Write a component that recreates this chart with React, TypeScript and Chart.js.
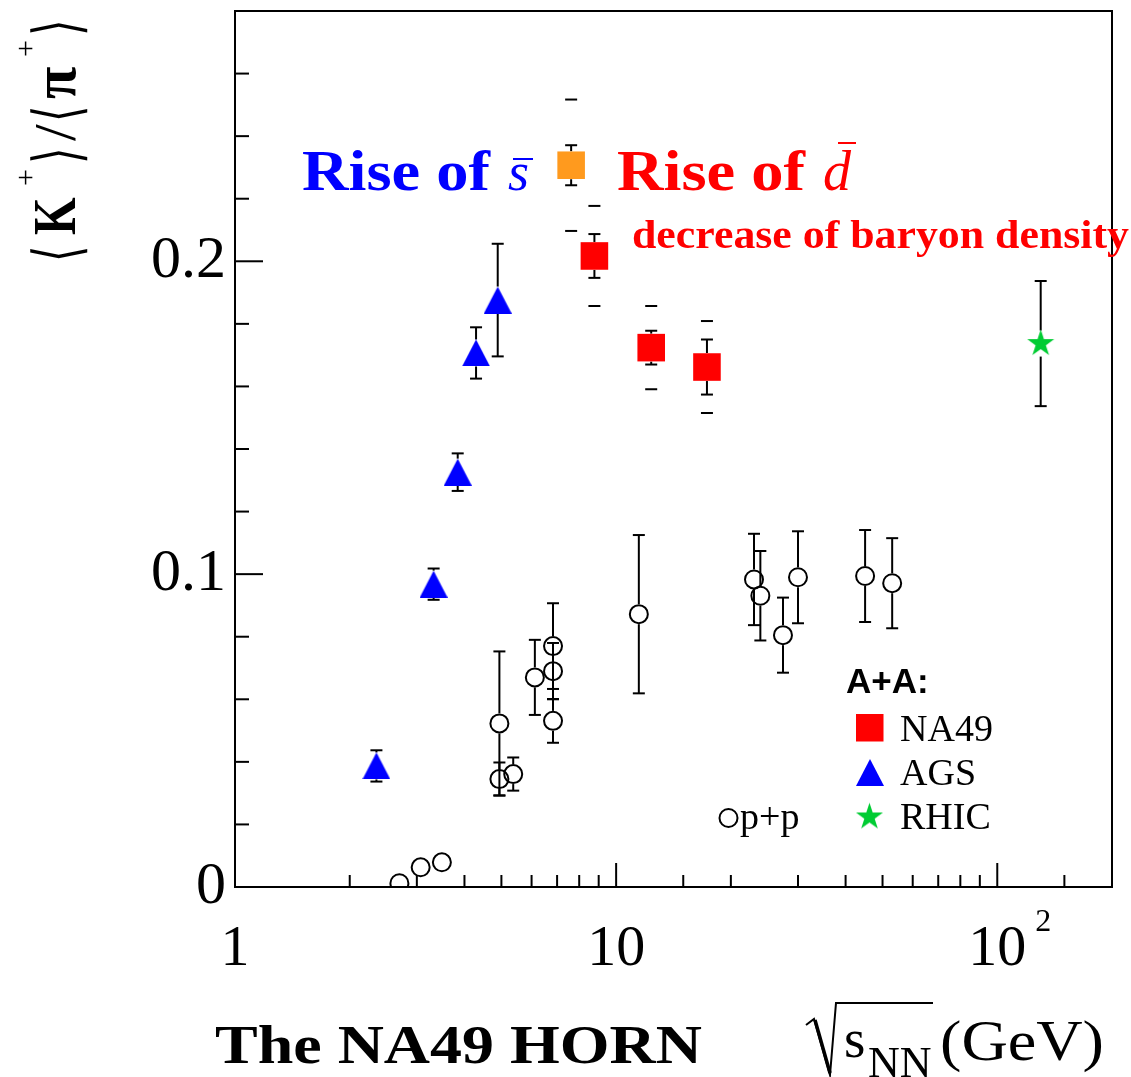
import React, { useEffect, useRef } from 'react';
import { Chart, registerables } from 'chart.js';

Chart.register(...registerables);

// ---------- data (sqrt(s_NN) in GeV, <K+>/<pi+>) ----------
const ppEnergy = [2.7, 3.07, 3.49, 4.94, 4.94, 5.37, 6.12, 6.83, 6.83, 6.83, 11.47, 23.0, 23.9, 27.4, 30.0, 45.0, 53.0];
const ppRatio = [0.0012, 0.0063, 0.0079, 0.0523, 0.0345, 0.0361, 0.067, 0.077, 0.069, 0.0531, 0.0872, 0.0983, 0.0931, 0.0805, 0.099, 0.0994, 0.0971];
const ppErr = [0, 0, 0, 0.023, 0.0053, 0.0053, 0.012, 0.0137, 0.009, 0.007, 0.0253, 0.0146, 0.0143, 0.012, 0.0147, 0.0147, 0.0144];

const agsEnergy = [2.35, 3.32, 3.84, 4.29, 4.89];
const agsRatio = [0.0387, 0.0968, 0.1326, 0.1707, 0.1876];
const agsErr = [0.005, 0.005, 0.006, 0.0082, 0.018];

const na49Energy = [8.77, 12.36, 17.31];
const na49Ratio = [0.2017, 0.1724, 0.1662];
const na49Stat = [0.007, 0.0054, 0.0088];
const na49Sys = [0.016, 0.0133, 0.0147];

const na49LowEnergy = [7.62];
const na49LowRatio = [0.2307];
const na49LowStat = [0.0064];
const na49LowSys = [0.021];

const rhicEnergy = [130];
const rhicRatio = [0.1737];
const rhicErr = [0.02];

const xTickLabels: Record<number, string> = { 1: '1', 10: '10', 100: '10' };
const yTickLabels = ['0', '0.1', '0.2'];

const SERIF = '"Liberation Serif", "DejaVu Serif", serif';

function pts(xs: number[], ys: number[]) {
  return xs.map((x, i) => ({ x, y: ys[i] }));
}

function makeTriangle(color: string) {
  const c = document.createElement('canvas');
  c.width = 28;
  c.height = 27;
  const g = c.getContext('2d')!;
  g.beginPath();
  g.moveTo(14, 0);
  g.lineTo(28, 27);
  g.lineTo(0, 27);
  g.closePath();
  g.fillStyle = color;
  g.fill();
  return c;
}

function makeStar(color: string, R: number) {
  const c = document.createElement('canvas');
  const s = Math.ceil(2 * R + 2);
  c.width = s;
  c.height = s;
  const g = c.getContext('2d')!;
  const cx = s / 2, cy = s / 2, r = R * 0.382;
  g.beginPath();
  for (let i = 0; i < 10; i++) {
    const a = -Math.PI / 2 + (i * Math.PI) / 5;
    const rr = i % 2 ? r : R;
    g.lineTo(cx + rr * Math.cos(a), cy + rr * Math.sin(a));
  }
  g.closePath();
  g.fillStyle = color;
  g.fill();
  return c;
}

// draws text starting at x with its advance stretched/compressed to the given width
function drawFit(ctx: CanvasRenderingContext2D, text: string, font: string, x: number, y: number, width: number) {
  ctx.font = font;
  const w = ctx.measureText(text).width;
  ctx.save();
  ctx.translate(x, y);
  ctx.scale(width / w, 1);
  ctx.fillText(text, 0, 0);
  ctx.restore();
}

export default function App() {
  const ref = useRef<HTMLCanvasElement | null>(null);

  useEffect(() => {
    document.body.style.margin = '0';
    const canvas = ref.current!;
    const tri = makeTriangle('#0000ff');
    const star = makeStar('#00cc33', 14.2);

    const line = (ctx: CanvasRenderingContext2D, x1: number, y1: number, x2: number, y2: number) => {
      ctx.beginPath();
      ctx.moveTo(x1, y1);
      ctx.lineTo(x2, y2);
      ctx.stroke();
    };

    const errorBars = {
      id: 'errorBars',
      beforeDatasetsDraw(chart: any) {
        const ctx: CanvasRenderingContext2D = chart.ctx;
        const xs = chart.scales.x, ys = chart.scales.y;
        ctx.save();
        ctx.strokeStyle = '#000';
        ctx.lineWidth = 2;
        const bar = (x: number, y: number, e: number, gap: number) => {
          if (!(e > 0)) return;
          const px = xs.getPixelForValue(x);
          const py = ys.getPixelForValue(y);
          const top = ys.getPixelForValue(y + e);
          const bot = ys.getPixelForValue(y - e);
          if (py - top > gap) line(ctx, px, top, px, py - gap);
          if (bot - py > gap) line(ctx, px, py + gap, px, bot);
          line(ctx, px - 6, top, px + 6, top);
          line(ctx, px - 6, bot, px + 6, bot);
        };
        const sys = (x: number, y: number, e: number) => {
          const px = xs.getPixelForValue(x);
          line(ctx, px - 6, ys.getPixelForValue(y + e), px + 6, ys.getPixelForValue(y + e));
          line(ctx, px - 6, ys.getPixelForValue(y - e), px + 6, ys.getPixelForValue(y - e));
        };
        ppEnergy.forEach((x, i) => bar(x, ppRatio[i], ppErr[i], 10));
        agsEnergy.forEach((x, i) => bar(x, agsRatio[i], agsErr[i], 13.5));
        na49Energy.forEach((x, i) => {
          bar(x, na49Ratio[i], na49Stat[i], 14);
          sys(x, na49Ratio[i], na49Sys[i]);
        });
        na49LowEnergy.forEach((x, i) => {
          bar(x, na49LowRatio[i], na49LowStat[i], 14);
          sys(x, na49LowRatio[i], na49LowSys[i]);
        });
        rhicEnergy.forEach((x, i) => bar(x, rhicRatio[i], rhicErr[i], 13));
        ctx.restore();
      },
    };

    const decorations = {
      id: 'decorations',
      afterDraw(chart: any) {
        const ctx: CanvasRenderingContext2D = chart.ctx;
        const ca = chart.chartArea;
        const xs = chart.scales.x, ys = chart.scales.y;
        ctx.save();
        ctx.strokeStyle = '#000';
        ctx.lineWidth = 2;
        // frame
        ctx.strokeRect(ca.left, ca.top, ca.right - ca.left, ca.bottom - ca.top);
        // inward tick marks
        ys.ticks.forEach((t: any) => {
          const v = t.value;
          const major = Math.abs(v / 0.1 - Math.round(v / 0.1)) < 1e-6;
          const py = ys.getPixelForValue(v);
          line(ctx, ca.left, py, ca.left + (major ? 28 : 14), py);
        });
        xs.ticks.forEach((t: any) => {
          const v = t.value;
          const lg = Math.log10(v);
          const major = Math.abs(lg - Math.round(lg)) < 1e-6;
          const px = xs.getPixelForValue(v);
          line(ctx, px, ca.bottom, px, ca.bottom - (major ? 24 : 12));
        });
        // superscript for 10^2
        ctx.fillStyle = '#000';
        ctx.textBaseline = 'alphabetic';
        ctx.textAlign = 'left';
        ctx.font = `32px ${SERIF}`;
        ctx.fillText('2', xs.getPixelForValue(100) + 38, 931);

        // y axis title  <K+>/<pi+>
        ctx.save();
        ctx.translate(75, 262);
        ctx.rotate(-Math.PI / 2);
        const br = `64px "DejaVu Sans", sans-serif`;
        const big = `bold 62px ${SERIF}`;
        const sup = `30px ${SERIF}`;
        const reg = `60px ${SERIF}`;
        // text, font, u, v, horizontal scale
        const pieces: [string, string, number, number, number][] = [
          ['\u27E8', br, 0, 4, 0.66],
          ['K', big, 27, 0, 0.78],
          ['+', sup, 76, -40, 1],
          ['\u27E9', br, 98, 4, 0.66],
          ['/', reg, 121, 0, 1],
          ['\u27E8', br, 140, 4, 0.66],
          ['\u03C0', big, 163, 0, 0.95],
          ['+', sup, 205, -40, 1],
          ['\u27E9', br, 226, 4, 0.66],
        ];
        pieces.forEach(([t, f, u, v, sx]) => {
          ctx.save();
          ctx.translate(u, v);
          ctx.scale(sx, 1);
          ctx.font = f;
          ctx.fillText(t, 0, 0);
          ctx.restore();
        });
        ctx.restore();

        // annotations
        ctx.fillStyle = '#0000ff';
        ctx.strokeStyle = '#0000ff';
        drawFit(ctx, 'Rise of', `bold 58px ${SERIF}`, 302, 190, 188);
        ctx.font = `italic 54px ${SERIF}`;
        ctx.fillText('s', 508, 190);
        line(ctx, 513, 159, 533, 159);

        ctx.fillStyle = '#ff0000';
        ctx.strokeStyle = '#ff0000';
        drawFit(ctx, 'Rise of', `bold 58px ${SERIF}`, 617, 190, 188);
        ctx.font = `italic 56px ${SERIF}`;
        ctx.fillText('d', 823, 190);
        line(ctx, 838, 143, 856, 143);

        drawFit(ctx, 'decrease of baryon density', `bold 39px ${SERIF}`, 632, 248, 497);

        // legend
        ctx.fillStyle = '#000';
        ctx.font = `bold 35px "Liberation Sans", Arial, sans-serif`;
        ctx.fillText('A+A:', 846, 693);
        ctx.fillStyle = '#ff0000';
        ctx.fillRect(856, 714, 27.5, 27.5);
        ctx.drawImage(tri, 856, 759);
        ctx.drawImage(star, 869.5 - star.width / 2, 817 - star.height / 2);
        ctx.fillStyle = '#000';
        ctx.font = `38px ${SERIF}`;
        ctx.fillText('NA49', 900, 741);
        ctx.fillText('AGS', 900, 785);
        ctx.fillText('RHIC', 900, 829);
        ctx.strokeStyle = '#000';
        ctx.lineWidth = 2;
        ctx.beginPath();
        ctx.arc(728.5, 818, 9, 0, Math.PI * 2);
        ctx.stroke();
        ctx.fillText('p+p', 740, 829);

        // x axis title
        drawFit(ctx, 'The NA49 HORN', `bold 54px ${SERIF}`, 215, 1063, 487);
        // radical
        ctx.lineWidth = 2;
        ctx.beginPath();
        ctx.moveTo(806, 1025);
        ctx.lineTo(814, 1019);
        ctx.lineTo(830, 1075);
        ctx.lineTo(836, 1003);
        ctx.lineTo(933, 1003);
        ctx.stroke();
        ctx.lineWidth = 3.5;
        line(ctx, 815, 1020, 830, 1073);
        ctx.font = `55px ${SERIF}`;
        ctx.fillText('s', 844, 1057);
        ctx.font = `44px ${SERIF}`;
        ctx.fillText('NN', 868, 1077);
        drawFit(ctx, '(GeV)', `58px ${SERIF}`, 940, 1060, 164);
        ctx.restore();
      },
    };

    const near = (a: number, b: number) => Math.abs(a - b) < 1e-9;

    const chart = new Chart(canvas, {
      type: 'scatter',
      data: {
        datasets: [
          {
            label: 'p+p',
            data: pts(ppEnergy, ppRatio),
            pointStyle: 'circle',
            pointRadius: 9,
            borderWidth: 2,
            borderColor: '#000',
            backgroundColor: 'rgba(0,0,0,0)',
          },
          {
            label: 'AGS',
            data: pts(agsEnergy, agsRatio),
            pointStyle: tri as any,
            pointRadius: 14,
            borderWidth: 0,
            backgroundColor: '#0000ff',
          },
          {
            label: 'NA49',
            data: pts(na49Energy, na49Ratio),
            pointStyle: 'rect',
            pointRadius: 19.5,
            borderWidth: 0,
            backgroundColor: '#ff0000',
          },
          {
            label: 'NA49 30A GeV',
            data: pts(na49LowEnergy, na49LowRatio),
            pointStyle: 'rect',
            pointRadius: 19.5,
            borderWidth: 0,
            backgroundColor: '#ff9a1e',
          },
          {
            label: 'RHIC',
            data: pts(rhicEnergy, rhicRatio),
            pointStyle: star as any,
            pointRadius: 14,
            borderWidth: 0,
            backgroundColor: '#00cc33',
          },
        ],
      },
      options: {
        responsive: false,
        devicePixelRatio: 1,
        animation: false,
        events: [],
        layout: { autoPadding: false, padding: { top: 11, right: 19, left: 0, bottom: 0 } },
        plugins: { legend: { display: false }, tooltip: { enabled: false } },
        scales: {
          x: {
            type: 'logarithmic',
            min: 1,
            max: 200,
            grid: { display: false, drawTicks: false },
            border: { display: false },
            ticks: {
              autoSkip: false,
              maxRotation: 0,
              minRotation: 0,
              padding: 28,
              color: '#000',
              font: { family: 'Liberation Serif', size: 58 },
              callback: (v: any) => {
                const n = Number(v);
                for (const k of Object.keys(xTickLabels)) if (near(n, Number(k))) return xTickLabels[Number(k)];
                return '';
              },
            },
            afterFit: (s: any) => {
              s.height = 190;
              s.paddingLeft = 0;
              s.paddingRight = 0;
            },
          },
          y: {
            min: 0,
            max: 0.28,
            grid: { display: false, drawTicks: false },
            border: { display: false },
            ticks: {
              stepSize: 0.02,
              autoSkip: false,
              padding: 9,
              color: '#000',
              font: { family: 'Liberation Serif', size: 60 },
              callback: (v: any) => {
                const n = Number(v);
                for (let i = 0; i < yTickLabels.length; i++) if (Math.abs(n - i * 0.1) < 1e-6) return yTickLabels[i];
                return '';
              },
            },
            afterFit: (s: any) => {
              s.width = 235;
              s.paddingTop = 0;
              s.paddingBottom = 0;
            },
          },
        },
      },
      plugins: [errorBars, decorations],
    });
    return () => chart.destroy();
  }, []);

  return <canvas ref={ref} width={1131} height={1077} style={{ display: 'block' }} />;
}
